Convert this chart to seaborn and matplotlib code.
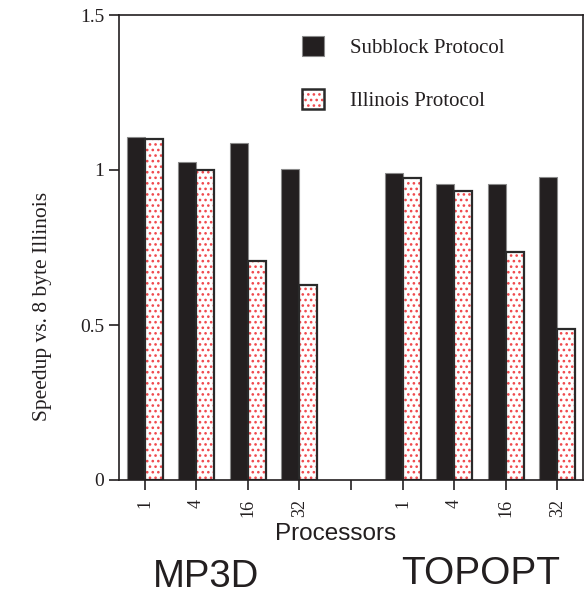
import matplotlib
matplotlib.use("Agg")
import matplotlib.pyplot as plt
import matplotlib.patches as mpatches
import pandas as pd
import seaborn as sns

# Processor counts per benchmark and slot positions on the shared x axis
processors = ["1", "4", "16", "32"]
mp3d_slots = [0, 1, 2, 3]
topopt_slots = [5, 6, 7, 8]
benchmarks = ["MP3D", "TOPOPT"]
protocols = ["Subblock Protocol", "Illinois Protocol"]

# Speedup relative to the 8-byte Illinois protocol
mp3d_subblock = [1.105, 1.025, 1.088, 1.003]
mp3d_illinois = [1.100, 1.000, 0.705, 0.628]
topopt_subblock = [0.990, 0.955, 0.955, 0.976]
topopt_illinois = [0.975, 0.932, 0.737, 0.488]

y_ticks = [0, 0.5, 1, 1.5]
y_tick_labels = ["0", "0.5", "1", "1.5"]

rows = []
for slots, sub, ill in ((mp3d_slots, mp3d_subblock, mp3d_illinois),
                        (topopt_slots, topopt_subblock, topopt_illinois)):
    for s, a, b in zip(slots, sub, ill):
        rows.append({"slot": s, "Protocol": protocols[0], "speedup": a})
        rows.append({"slot": s, "Protocol": protocols[1], "speedup": b})
df = pd.DataFrame(rows)

sns.set_theme(style="ticks")
plt.rcParams["font.family"] = ["Liberation Serif", "DejaVu Serif"]
plt.rcParams["hatch.linewidth"] = 1.1

ink = "#231f20"
dot_red = "#f0484c"
dot_hatch = "..."

fig = plt.figure(figsize=(5.84, 6.0), dpi=100)
ax = fig.add_axes([119 / 584, 1 - 480 / 600, 464 / 584, 465 / 600])

sns.barplot(data=df, x="slot", y="speedup", hue="Protocol",
            hue_order=protocols, native_scale=True, width=0.7,
            palette={protocols[0]: ink, protocols[1]: "white"},
            saturation=1, errorbar=None, legend=False, ax=ax)

# Solid bars: thin grey rim
for bar in ax.containers[0]:
    bar.set_edgecolor("#8a8a8a")
    bar.set_linewidth(0.8)

# Dotted bars: red dot fill plus a dark outline traced on the same geometry
for bar in ax.containers[1]:
    bar.set_facecolor("white")
    bar.set_edgecolor(dot_red)
    bar.set_hatch(dot_hatch)
    bar.set_linewidth(0)
    ax.add_patch(mpatches.Rectangle((bar.get_x(), bar.get_y()),
                                    bar.get_width(), bar.get_height(),
                                    fill=False, edgecolor="#2a2a2a",
                                    linewidth=1.6, zorder=bar.get_zorder() + 0.1))

ax.set_xlim(-0.5, 8.5)
ax.set_ylim(0, 1.5)
ax.set_xticks(range(9))
ax.set_xticklabels(processors + [""] + processors, rotation=90, fontsize=13)
ax.set_yticks(y_ticks)
ax.set_yticklabels(y_tick_labels, fontsize=14)
ax.set_xlabel("")
ax.set_ylabel("")
ax.tick_params(axis="both", direction="out", length=7.5, width=1.2,
               color=ink, labelcolor=ink)
ax.tick_params(axis="x", pad=6)
ax.tick_params(axis="y", pad=3)
for side in ("left", "right", "top", "bottom"):
    ax.spines[side].set_visible(True)
    ax.spines[side].set_color(ink)
    ax.spines[side].set_linewidth(1.2)

fig.text(43 / 584, 1 - 306 / 600, "Speedup vs. 8 byte Illinois", rotation=90,
         ha="center", va="center", fontsize=15.5, color=ink)
sans = ["Liberation Sans", "DejaVu Sans"]
fig.text(336 / 584, 1 - 534 / 600, "Processors", ha="center", va="center",
         fontsize=17.5, family=sans, color=ink)
fig.text(206 / 584, 1 - 577 / 600, benchmarks[0], ha="center", va="center",
         fontsize=27.5, family=sans, color=ink)
fig.text(481 / 584, 1 - 574 / 600, benchmarks[1], ha="center", va="center",
         fontsize=28, family=sans, color=ink)

# Legend
solid_handle = mpatches.Patch(facecolor=ink, edgecolor="#8a8a8a", linewidth=0.8)
dot_fill = mpatches.Patch(facecolor="white", edgecolor=dot_red, hatch=dot_hatch,
                          linewidth=0)
dot_rim = mpatches.Patch(fill=False, edgecolor="#2a2a2a", linewidth=1.8)
fig.legend([solid_handle, (dot_fill, dot_rim)], protocols,
           loc="upper left", bbox_to_anchor=(302 / 584, 1 - 36 / 600),
           frameon=False, fontsize=15, handlelength=1.06, handleheight=1.1,
           handletextpad=1.25, labelspacing=1.5, borderpad=0,
           borderaxespad=0, labelcolor=ink)

fig.savefig("out.png", dpi=100)
